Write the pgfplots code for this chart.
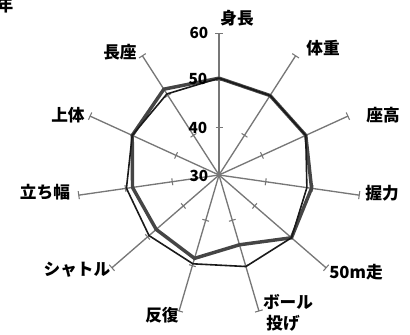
\documentclass[border=0pt]{standalone}
\usepackage{fontspec}
\setmainfont{Noto Sans CJK JP}
\usepackage{pgfplots}
\usepackage{pgfplotstable}
\pgfplotsset{compat=1.18}
\definecolor{SpokeGray}{HTML}{777777}
\definecolor{ThickGray}{HTML}{454545}
\definecolor{ThinBlack}{HTML}{1A1A1A}

% angle (deg), series A (thin), series B (thick)
\pgfplotstableread{
ang      A     B
90       50.5  50.5
57.273   50.0  50.0
24.545   50.2  50.2
-8.182   48.8  49.8
-40.909  50.3  50.3
-73.636  50.2  45.4
-106.364 49.6  48.4
-139.091 49.6  47.6
-171.818 49.8  48.5
-204.545 50.2  50.2
-237.273 50.4  51.6
-270     50.5  50.5
}\radar

\begin{document}
\begin{tikzpicture}[x=0.75pt,y=0.75pt]
\useasboundingbox (-219,-160) rectangle (191,175);
% spokes with ticks at 40, 50 and cap at 60
\foreach \a in {90,57.273,24.545,-8.182,-40.909,-73.636,-106.364,-139.091,-171.818,-204.545,-237.273}{
  \draw[SpokeGray,line width=1pt] (0,0) -- (\a:141.7);
  \draw[SpokeGray,line width=0.8pt] (\a:47.2) ++(\a+90:3.5) -- ++(\a-90:7);
  \draw[SpokeGray,line width=0.8pt] (\a:94.5) ++(\a+90:3.5) -- ++(\a-90:7);
  \draw[SpokeGray,line width=0.8pt] (\a:141.7) ++(\a+90:4) -- ++(\a-90:8);
}
\begin{axis}[anchor=origin,at={(0,0)},x=3.542pt,y=3.542pt,
  xmin=-46.37,xmax=40.44,ymin=-33.88,ymax=37.05,hide axis,clip=false]
\addplot[data cs=polar,ThickGray,line width=2.6pt,no markers] table[x=ang,y expr=\thisrow{B}-30] {\radar};
\addplot[data cs=polar,ThinBlack,line width=1.2pt,no markers] table[x=ang,y expr=\thisrow{A}-30] {\radar};
\end{axis}
% radial scale
\begin{scope}[font=\fontsize{11.5}{12}\selectfont\bfseries]
\node at (-20,142) {60};
\node at (-21,96) {50};
\node at (-21,47) {40};
\node at (-20,-1) {30};
\end{scope}
% category labels
\begin{scope}[font=\fontsize{12.5}{13}\selectfont\bfseries]
\node at (-214,170) {年};
\node at (18,157) {身長};
\node at (104,127) {体重};
\node at (164,60) {座高};
\node at (163,-18) {握力};
\node at (137,-97) {50m走};
\node at (69,-127) {ボール};
\node at (64,-148) {投げ};
\node at (-57,-140) {反復};
\node at (-142,-95) {シャトル};
\node at (-174,-17) {立ち幅};
\node at (-151,60) {上体};
\node at (-99,123) {長座};
\end{scope}
\end{tikzpicture}
\end{document}
